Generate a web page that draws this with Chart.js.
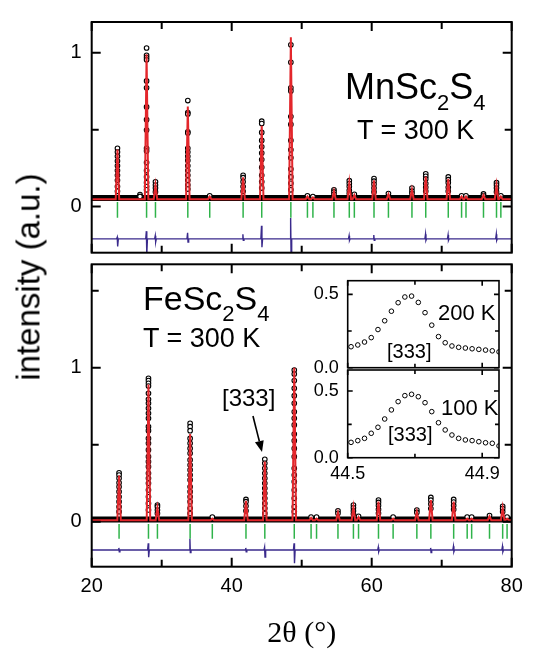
<!DOCTYPE html>
<html><head><meta charset="utf-8">
<script src="https://cdn.jsdelivr.net/npm/chart.js@4.4.1/dist/chart.umd.min.js"></script>
<style>
html,body{margin:0;padding:0;background:#fff;}
#wrap{position:relative;width:538px;height:652px;overflow:hidden;font-family:'Liberation Sans',Arial,sans-serif;color:#000;background:#fff;}
canvas{position:absolute;left:0;top:0;}
.t{position:absolute;white-space:nowrap;line-height:1;}
.sb{position:relative;top:11px;font-size:22px;}
</style></head><body>
<div id="wrap">
<canvas id="cTop" width="538" height="652"></canvas>
<canvas id="cBot" width="538" height="652"></canvas>
<canvas id="cIn1" width="538" height="652"></canvas>
<canvas id="cIn2" width="538" height="652"></canvas>
<div class="t" style="left:345px;top:68.5px;font-size:36px;">MnSc<span class="sb">2</span>S<span class="sb">4</span></div>
<div class="t" style="left:357px;top:117px;font-size:27px;">T = 300 K</div>
<div class="t" style="left:143px;top:281px;font-size:34px;">FeSc<span class="sb">2</span>S<span class="sb">4</span></div>
<div class="t" style="left:143px;top:324.5px;font-size:27px;">T = 300 K</div>
<div class="t" style="left:222px;top:386px;font-size:24px;">[333]</div>
<div class="t" style="left:438px;top:301.5px;font-size:22px;">200 K</div>
<div class="t" style="left:441px;top:396.5px;font-size:22px;">100 K</div>
<div class="t" style="left:387px;top:341px;font-size:20px;">[333]</div>
<div class="t" style="left:388px;top:424px;font-size:20px;">[333]</div>
<div class="t" style="left:28px;top:276.5px;font-size:33px;transform:translate(-50%,-50%) rotate(-90deg);">intensity (a.u.)</div>
</div>
<script>
// ---------- DATA ----------
// MnSc2S4, T = 300 K (upper panel)
const mnPos = [23.68, 27.84, 29.11, 33.73, 36.86, 41.63, 44.29, 48.45, 50.82, 51.60, 54.61, 56.80, 57.52, 60.33, 62.39, 65.75, 67.72, 70.94, 72.84, 73.47, 75.97, 77.83, 78.45];
const mnFit = [0.37, 0.99, 0.14, 0.65, 0.065, 0.19, 0.525, 1.10, 0.065, 0.06, 0.10, 0.155, 0.075, 0.17, 0.08, 0.11, 0.195, 0.18, 0.065, 0.065, 0.075, 0.14, 0.065];
const mnObs = [
  [0.379, 0.354, 0.327, 0.296, 0.265, 0.234, 0.203, 0.171, 0.130, 0.099],
  [1.031, 0.983, 0.969, 0.954, 0.817, 0.772, 0.648, 0.565, 0.497, 0.379, 0.362, 0.286, 0.234, 0.193, 0.155, 0.130, 0.109],
  [0.161, 0.140, 0.120, 0.095],
  [0.689, 0.611, 0.602, 0.486, 0.478, 0.379, 0.354, 0.327, 0.300, 0.265, 0.234, 0.203, 0.171, 0.140, 0.114],
  [0.07],
  [0.203, 0.188, 0.161, 0.130, 0.099],
  [0.555, 0.540, 0.482, 0.430, 0.389, 0.348, 0.306, 0.255, 0.203, 0.161, 0.120],
  [1.052, 0.938, 0.772, 0.752, 0.585, 0.534, 0.430, 0.369, 0.317, 0.244, 0.193, 0.151, 0.109],
  [0.07], [0.065],
  [0.109, 0.095, 0.08],
  [0.168, 0.150, 0.130, 0.105, 0.085],
  [0.08],
  [0.182, 0.165, 0.145, 0.120, 0.095],
  [0.085],
  [0.12, 0.10, 0.085],
  [0.213, 0.197, 0.18, 0.15, 0.125, 0.10],
  [0.193, 0.175, 0.155, 0.125, 0.10],
  [0.07], [0.07],
  [0.082, 0.07],
  [0.155, 0.14, 0.12, 0.095],
  [0.07]
];
const mnExtraPos = [26.9];
const mnExtraObs = [[0.078, 0.066]];
const mnBand = 0.055;      // level of the dense background points
const mnFitBase = 0.048;   // fitted background
const mnBraggHi = 0.03, mnBraggLo = -0.073;
const mnDiffBase = -0.21;
const mnDiffPos = [23.68, 27.84, 29.11, 33.73, 41.63, 44.29, 48.45, 56.80, 60.33, 67.72, 70.94, 77.83];
const mnDiffHi  = [-0.20, -0.16, -0.19, -0.17, -0.18, -0.125, -0.075, -0.19, -0.185, -0.18, -0.185, -0.18];
const mnDiffLo  = [-0.26, -0.31, -0.23, -0.23, -0.22, -0.265, -0.31, -0.22, -0.22, -0.22, -0.22, -0.22];

// FeSc2S4, T = 300 K (lower panel)
const fePos = [23.91, 28.11, 29.39, 34.06, 37.23, 42.04, 44.73, 48.94, 51.34, 52.12, 55.18, 57.39, 58.12, 60.97, 63.06, 66.45, 68.45, 71.71, 73.64, 74.28, 76.83, 78.71, 79.34];
const feFit = [0.30, 0.89, 0.09, 0.57, 0.02, 0.135, 0.39, 1.0, 0.025, 0.02, 0.06, 0.095, 0.03, 0.13, 0.02, 0.065, 0.14, 0.13, 0.02, 0.02, 0.035, 0.09, 0.02];
const feObs = [
  [0.318, 0.303, 0.282, 0.253, 0.227, 0.195, 0.162, 0.130, 0.097, 0.065],
  [0.931, 0.916, 0.899, 0.881, 0.834, 0.795, 0.769, 0.736, 0.704, 0.671, 0.617, 0.591, 0.541, 0.509, 0.466, 0.422, 0.390, 0.357, 0.314, 0.282, 0.249, 0.206, 0.162, 0.119, 0.076],
  [0.108, 0.097, 0.076, 0.054],
  [0.639, 0.617, 0.591, 0.541, 0.509, 0.476, 0.444, 0.401, 0.368, 0.336, 0.303, 0.271, 0.227, 0.195, 0.162, 0.130, 0.087, 0.054],
  [0.03],
  [0.145, 0.130, 0.102, 0.071],
  [0.405, 0.379, 0.347, 0.314, 0.282, 0.249, 0.217, 0.184, 0.152, 0.119, 0.087, 0.054],
  [0.985, 0.959, 0.916, 0.866, 0.818, 0.769, 0.714, 0.671, 0.628, 0.569, 0.526, 0.476, 0.422, 0.347, 0.303, 0.260, 0.206, 0.152, 0.097, 0.065],
  [0.03], [0.03],
  [0.071, 0.055],
  [0.108, 0.09, 0.07, 0.05],
  [0.035],
  [0.141, 0.125, 0.105, 0.08, 0.055],
  [0.03],
  [0.076, 0.06],
  [0.158, 0.14, 0.115, 0.085],
  [0.145, 0.128, 0.105, 0.08],
  [0.03], [0.03],
  [0.04],
  [0.10, 0.085, 0.065],
  [0.03]
];
const feBand = 0.015;
const feFitBase = 0.01;
const feBraggHi = -0.015, feBraggLo = -0.11;
const feDiffBase = -0.184;
const feDiffPos = [23.91, 28.11, 34.06, 42.04, 44.73, 48.94, 60.97, 68.45, 71.71, 78.71];
const feDiffHi  = [-0.17, -0.14, -0.11, -0.17, -0.165, -0.14, -0.165, -0.17, -0.16, -0.16];
const feDiffLo  = [-0.195, -0.23, -0.20, -0.195, -0.23, -0.27, -0.195, -0.20, -0.195, -0.195];

// Insets: [333] reflection of FeSc2S4
const insetX    = [44.51, 44.53, 44.55, 44.57, 44.59, 44.61, 44.63, 44.65, 44.67, 44.69, 44.71, 44.73, 44.75, 44.77, 44.79, 44.81, 44.83, 44.85, 44.87, 44.89, 44.91, 44.93, 44.95];
const inset200K = [0.143, 0.155, 0.175, 0.205, 0.26, 0.32, 0.385, 0.443, 0.482, 0.488, 0.445, 0.375, 0.29, 0.212, 0.17, 0.148, 0.139, 0.134, 0.129, 0.125, 0.12, 0.115, 0.108];
const inset100K = [0.115, 0.128, 0.145, 0.183, 0.228, 0.29, 0.358, 0.42, 0.465, 0.475, 0.457, 0.412, 0.345, 0.262, 0.208, 0.17, 0.145, 0.133, 0.128, 0.12, 0.112, 0.108, 0.088];

// Axis ticks
const xMajorMain = [20, 40, 60, 80];
const xMinorMain = [30, 50, 70];
const yMajorMain = [0, 1];
const yMinorMain = [0.5, 1.5];
const insetXMajor = [44.5, 44.9];
const insetXMinor = [44.7];
const insetYMajor = [0, 0.5];
const insetYMinor = [0.25];

// ---------- BUILDERS ----------
function obsPoints(pos, obs) {
  const pts = [];
  pos.forEach((p, i) => obs[i].forEach(v => pts.push({x: p, y: v})));
  return pts;
}
function fitLine(pos, top, base) {
  const hw = 0.25;
  const pts = [{x: 20, y: base}];
  pos.forEach((p, i) => { pts.push({x: p - hw, y: base}, {x: p, y: top[i]}, {x: p + hw, y: base}); });
  pts.push({x: 80, y: base});
  return pts;
}
function braggLines(pos, hi, lo) {
  const pts = [];
  pos.forEach(p => { pts.push({x: p, y: hi}, {x: p, y: lo}, {x: p, y: null}); });
  return pts;
}
function diffLine(pos, hi, lo, base) {
  const pts = [{x: 20, y: base}];
  pos.forEach((p, i) => { pts.push({x: p - 0.12, y: base}, {x: p - 0.03, y: hi[i]}, {x: p + 0.03, y: lo[i]}, {x: p + 0.12, y: base}); });
  pts.push({x: 80, y: base});
  return pts;
}
const setTicks = vals => (s => { s.ticks = vals.filter(v => v >= s.min - 1e-9 && v <= s.max + 1e-9).map(v => ({value: v})); });

const RED = '#e3262b', GREEN = '#2fb34a', BLUE = '#3a2a8c';
const FONT = "'Liberation Sans', Arial, sans-serif";

const framePlugin = {
  id: 'frame',
  beforeDatasetsDraw(chart, args, o) {
    if (!o.fill) return;
    const a = chart.chartArea, ctx = chart.ctx;
    ctx.save(); ctx.fillStyle = '#fff';
    ctx.fillRect(a.left, a.top, a.right - a.left, a.bottom - a.top);
    ctx.restore();
  },
  afterDraw(chart, args, o) {
    const {ctx, chartArea: a, scales: {x, y}} = chart;
    ctx.save();
    ctx.strokeStyle = '#000'; ctx.lineWidth = o.lw;
    ctx.beginPath();
    const xt = (vals, len) => vals.forEach(v => {
      const px = x.getPixelForValue(v);
      ctx.moveTo(px, a.bottom); ctx.lineTo(px, a.bottom - len);
      ctx.moveTo(px, a.top); ctx.lineTo(px, a.top + len);
    });
    const yt = (vals, len) => vals.forEach(v => {
      const py = y.getPixelForValue(v);
      if (py < a.top - 0.5 || py > a.bottom + 0.5) return;
      ctx.moveTo(a.left, py); ctx.lineTo(a.left + len, py);
      ctx.moveTo(a.right, py); ctx.lineTo(a.right - len, py);
    });
    xt(o.xMajor, o.major); xt(o.xMinor, o.minor);
    yt(o.yMajor, o.major); yt(o.yMinor, o.minor);
    ctx.stroke();
    ctx.strokeRect(a.left, a.top, a.right - a.left, a.bottom - a.top);
    if (o.arrow) {
      const [x0, y0, x1, y1] = o.arrow;
      const p0 = [x.getPixelForValue(x0), y.getPixelForValue(y0)];
      const p1 = [x.getPixelForValue(x1), y.getPixelForValue(y1)];
      const ang = Math.atan2(p1[1] - p0[1], p1[0] - p0[0]);
      const L = 11, W = 4.5;
      const bx = p1[0] - L * Math.cos(ang), by = p1[1] - L * Math.sin(ang);
      ctx.lineWidth = 1.6;
      ctx.beginPath(); ctx.moveTo(p0[0], p0[1]); ctx.lineTo(bx, by); ctx.stroke();
      ctx.fillStyle = '#000';
      ctx.beginPath();
      ctx.moveTo(p1[0], p1[1]);
      ctx.lineTo(bx + W * Math.sin(ang), by - W * Math.cos(ang));
      ctx.lineTo(bx - W * Math.sin(ang), by + W * Math.cos(ang));
      ctx.closePath(); ctx.fill();
    }
    ctx.restore();
  }
};

function mainDatasets(pos, fit, obs, extraPos, extraObs, band, fitBase, bHi, bLo, dPos, dHi, dLo, dBase) {
  return [
    {data: [{x: 20, y: band}, {x: 80, y: band}], showLine: true, borderColor: '#000', borderWidth: 6, pointRadius: 0, order: 5},
    {data: obsPoints(pos.concat(extraPos), obs.concat(extraObs)), showLine: false, pointRadius: 2.3, pointBorderWidth: 1.1,
      pointBorderColor: '#000', pointBackgroundColor: '#fff', order: 4},
    {data: fitLine(pos, fit, fitBase), showLine: true, borderColor: RED, borderWidth: 2, pointRadius: 0, tension: 0, order: 3},
    {data: braggLines(pos, bHi, bLo), showLine: true, spanGaps: false, borderColor: GREEN, borderWidth: 1.5, pointRadius: 0, order: 2},
    {data: diffLine(dPos, dHi, dLo, dBase), showLine: true, borderColor: BLUE, borderWidth: 1.4, pointRadius: 0, tension: 0, order: 1}
  ];
}

function yTickCb(v) {
  if (Math.abs(v) < 1e-9) return '0';
  if (Math.abs(v - 1) < 1e-9) return '1';
  return '';
}

const common = {
  responsive: false, animation: false, events: [],
  plugins: {legend: {display: false}, tooltip: {enabled: false}}
};

// Upper panel
new Chart(document.getElementById('cTop'), {
  type: 'scatter',
  data: {datasets: mainDatasets(mnPos, mnFit, mnObs, mnExtraPos, mnExtraObs, mnBand, mnFitBase, mnBraggHi, mnBraggLo, mnDiffPos, mnDiffHi, mnDiffLo, mnDiffBase)},
  options: Object.assign({}, common, {
    layout: {padding: {left: 0, top: 11, right: 26.3, bottom: 399.3}},
    scales: {
      x: {type: 'linear', min: 20, max: 80, display: false},
      y: {type: 'linear', min: -0.30, max: 1.20,
        afterFit: s => { s.width = 91.7; },
        afterBuildTicks: setTicks(yMajorMain),
        grid: {display: false, drawTicks: false}, border: {display: false},
        ticks: {autoSkip: false, padding: 10, color: '#000',
          font: {family: FONT, size: 20}, callback: yTickCb}}
    },
    plugins: Object.assign({}, common.plugins, {
      frame: {lw: 2, major: 9, minor: 7, xMajor: xMajorMain, xMinor: xMinorMain, yMajor: yMajorMain, yMinor: yMinorMain}
    })
  }),
  plugins: [framePlugin]
});

// Lower panel
new Chart(document.getElementById('cBot'), {
  type: 'scatter',
  data: {datasets: mainDatasets(fePos, feFit, feObs, [], [], feBand, feFitBase, feBraggHi, feBraggLo, feDiffPos, feDiffHi, feDiffLo, feDiffBase)},
  options: Object.assign({}, common, {
    layout: {padding: {left: 0, top: 264.3, right: 26.3, bottom: 0}},
    scales: {
      x: {type: 'linear', min: 20, max: 80,
        afterFit: s => { s.height = 85.3; },
        afterBuildTicks: setTicks(xMajorMain),
        grid: {display: false, drawTicks: false}, border: {display: false},
        ticks: {autoSkip: false, maxRotation: 0, padding: 8, color: '#000',
          font: {family: FONT, size: 20}},
        title: {display: true, text: '2θ (°)', color: '#000', padding: {top: 0, bottom: 0},
          font: {family: "'Liberation Serif', 'Times New Roman', serif", size: 30}}},
      y: {type: 'linear', min: -0.292, max: 1.671,
        afterFit: s => { s.width = 91.7; },
        afterBuildTicks: setTicks(yMajorMain),
        grid: {display: false, drawTicks: false}, border: {display: false},
        ticks: {autoSkip: false, padding: 10, color: '#000',
          font: {family: FONT, size: 20}, callback: yTickCb}}
    },
    plugins: Object.assign({}, common.plugins, {
      frame: {lw: 2, major: 9, minor: 7, xMajor: xMajorMain, xMinor: xMinorMain, yMajor: yMajorMain, yMinor: yMinorMain,
        arrow: [43.04, 0.686, 44.33, 0.453]}
    })
  }),
  plugins: [framePlugin]
});

function insetChart(id, values, yMax, padding, showX) {
  return new Chart(document.getElementById(id), {
    type: 'scatter',
    data: {datasets: [{data: insetX.map((x, i) => ({x: x, y: values[i]})), pointRadius: 2.3, pointBorderWidth: 1,
      pointBorderColor: '#000', pointBackgroundColor: '#fff'}]},
    options: Object.assign({}, common, {
      layout: {padding: padding},
      scales: {
        x: showX ? {type: 'linear', min: 44.5, max: 44.95,
          afterFit: s => { s.height = 30; },
          afterBuildTicks: setTicks(insetXMajor),
          grid: {display: false, drawTicks: false}, border: {display: false},
          ticks: {autoSkip: false, maxRotation: 0, padding: 6, color: '#000', font: {family: FONT, size: 18},
            callback: v => v.toFixed(1)}}
          : {type: 'linear', min: 44.5, max: 44.95, display: false},
        y: {type: 'linear', min: 0, max: yMax,
          afterFit: s => { s.width = 347.7; },
          afterBuildTicks: setTicks(insetYMajor),
          grid: {display: false, drawTicks: false}, border: {display: false},
          ticks: {autoSkip: false, padding: 9, color: '#000', font: {family: FONT, size: 18},
            callback: v => v.toFixed(1)}}
      },
      plugins: Object.assign({}, common.plugins, {
        frame: {fill: true, lw: 1.6, major: 5, minor: 4, xMajor: insetXMajor, xMinor: insetXMinor, yMajor: insetYMajor, yMinor: insetYMinor}
      })
    }),
    plugins: [framePlugin]
  });
}
insetChart('cIn1', inset200K, 0.593, {left: 0, top: 280.7, right: 39, bottom: 284.3}, false);
insetChart('cIn2', inset100K, 0.657, {left: 0, top: 370, right: 39, bottom: 164.3}, true);
</script>
</body></html>
